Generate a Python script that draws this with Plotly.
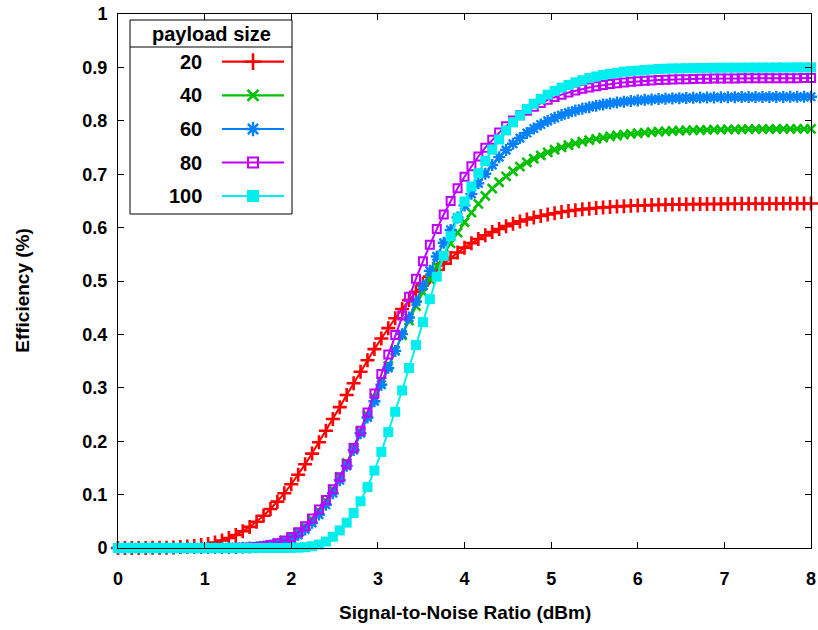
import plotly.graph_objects as go

# Signal-to-noise ratio samples (dBm)
snr = [
    0.00, 0.08, 0.16, 0.24, 0.32, 0.40, 0.48, 0.56, 0.64, 0.72,
    0.80, 0.88, 0.96, 1.04, 1.12, 1.20, 1.28, 1.36, 1.44, 1.52,
    1.60, 1.68, 1.76, 1.84, 1.92, 2.00, 2.08, 2.16, 2.24, 2.32,
    2.40, 2.48, 2.56, 2.64, 2.72, 2.80, 2.88, 2.96, 3.04, 3.12,
    3.20, 3.28, 3.36, 3.44, 3.52, 3.60, 3.68, 3.76, 3.84, 3.92,
    4.00, 4.08, 4.16, 4.24, 4.32, 4.40, 4.48, 4.56, 4.64, 4.72,
    4.80, 4.88, 4.96, 5.04, 5.12, 5.20, 5.28, 5.36, 5.44, 5.52,
    5.60, 5.68, 5.76, 5.84, 5.92, 6.00, 6.08, 6.16, 6.24, 6.32,
    6.40, 6.48, 6.56, 6.64, 6.72, 6.80, 6.88, 6.96, 7.04, 7.12,
    7.20, 7.28, 7.36, 7.44, 7.52, 7.60, 7.68, 7.76, 7.84, 7.92,
    8.00,
]

# Efficiency per payload size
eff_20 = [
    0, 0, 0, 0.0001, 0.0002, 0.0003, 0.0004, 0.0007, 0.0011, 0.0017,
    0.0026, 0.0038, 0.0054, 0.0076, 0.0104, 0.0141, 0.0187, 0.0244, 0.0313, 0.0395,
    0.0492, 0.0603, 0.0730, 0.0868, 0.1024, 0.1194, 0.1373, 0.1567, 0.1768, 0.1980,
    0.2195, 0.2416, 0.2638, 0.2864, 0.3084, 0.3300, 0.3515, 0.3725, 0.3924, 0.4117,
    0.4302, 0.4477, 0.4642, 0.4798, 0.4945, 0.5081, 0.5207, 0.5325, 0.5433, 0.5534,
    0.5625, 0.5709, 0.5786, 0.5855, 0.5919, 0.5975, 0.6027, 0.6074, 0.6116, 0.6153,
    0.6187, 0.6218, 0.6245, 0.6269, 0.6291, 0.6310, 0.6327, 0.6342, 0.6355, 0.6367,
    0.6378, 0.6386, 0.6395, 0.6402, 0.6408, 0.6413, 0.6418, 0.6422, 0.6426, 0.6429,
    0.6432, 0.6435, 0.6437, 0.6439, 0.6440, 0.6442, 0.6443, 0.6444, 0.6445, 0.6446,
    0.6446, 0.6447, 0.6447, 0.6448, 0.6448, 0.6448, 0.6449, 0.6449, 0.6449, 0.6449,
    0.6450,
]
eff_40 = [
    0, 0, 0, 0, 0, 0, 0, 0, 0, 0,
    0, 0, 0, 0, 0, 0.0001, 0.0002, 0.0003, 0.0006, 0.0012,
    0.0021, 0.0037, 0.0060, 0.0093, 0.0141, 0.0205, 0.0289, 0.0397, 0.0529, 0.0691,
    0.0877, 0.1090, 0.1331, 0.1594, 0.1879, 0.2176, 0.2488, 0.2811, 0.3116, 0.3409,
    0.3695, 0.3981, 0.4259, 0.4529, 0.4789, 0.5038, 0.5274, 0.5497, 0.5706, 0.5905,
    0.6100, 0.6280, 0.6445, 0.6595, 0.6730, 0.6850, 0.6960, 0.7055, 0.7142, 0.7220,
    0.7290, 0.7352, 0.7408, 0.7458, 0.7503, 0.7542, 0.7578, 0.7610, 0.7638, 0.7663,
    0.7686, 0.7707, 0.7725, 0.7741, 0.7755, 0.7767, 0.7778, 0.7788, 0.7796, 0.7803,
    0.7810, 0.7815, 0.7820, 0.7824, 0.7828, 0.7831, 0.7834, 0.7836, 0.7838, 0.7840,
    0.7842, 0.7843, 0.7844, 0.7845, 0.7846, 0.7847, 0.7848, 0.7848, 0.7849, 0.7849,
    0.7850,
]
eff_60 = [
    0, 0, 0, 0, 0, 0, 0, 0, 0, 0,
    0, 0, 0, 0, 0, 0, 0.0001, 0.0002, 0.0004, 0.0008,
    0.0015, 0.0027, 0.0045, 0.0073, 0.0114, 0.0170, 0.0246, 0.0347, 0.0472, 0.0626,
    0.0810, 0.1026, 0.1269, 0.1538, 0.1835, 0.2151, 0.2444, 0.2749, 0.3059, 0.3374,
    0.3691, 0.4005, 0.4315, 0.4616, 0.4909, 0.5190, 0.5460, 0.5715, 0.5956, 0.6190,
    0.6416, 0.6632, 0.6829, 0.7009, 0.7172, 0.7319, 0.7452, 0.7570, 0.7677, 0.7772,
    0.7856, 0.7931, 0.7997, 0.8055, 0.8107, 0.8152, 0.8192, 0.8226, 0.8256, 0.8284,
    0.8306, 0.8326, 0.8343, 0.8358, 0.8371, 0.8382, 0.8392, 0.8401, 0.8408, 0.8414,
    0.8419, 0.8424, 0.8428, 0.8431, 0.8434, 0.8436, 0.8438, 0.8440, 0.8441, 0.8443,
    0.8444, 0.8445, 0.8446, 0.8446, 0.8447, 0.8448, 0.8448, 0.8449, 0.8449, 0.8449,
    0.8450,
]
eff_80 = [
    0, 0, 0, 0, 0, 0, 0, 0, 0, 0,
    0, 0, 0, 0, 0, 0.0001, 0.0001, 0.0003, 0.0006, 0.0011,
    0.0020, 0.0035, 0.0058, 0.0091, 0.0140, 0.0207, 0.0295, 0.0409, 0.0551, 0.0722,
    0.0900, 0.1102, 0.1325, 0.1568, 0.1871, 0.2196, 0.2538, 0.2894, 0.3258, 0.3624,
    0.3990, 0.4352, 0.4704, 0.5044, 0.5369, 0.5679, 0.5972, 0.6245, 0.6500, 0.6735,
    0.6952, 0.7150, 0.7332, 0.7496, 0.7645, 0.7779, 0.7899, 0.8006, 0.8103, 0.8189,
    0.8265, 0.8332, 0.8392, 0.8444, 0.8490, 0.8531, 0.8566, 0.8598, 0.8625, 0.8649,
    0.8670, 0.8688, 0.8704, 0.8717, 0.8729, 0.8739, 0.8748, 0.8756, 0.8762, 0.8768,
    0.8772, 0.8776, 0.8780, 0.8783, 0.8786, 0.8788, 0.8790, 0.8791, 0.8793, 0.8794,
    0.8795, 0.8796, 0.8797, 0.8797, 0.8798, 0.8798, 0.8799, 0.8799, 0.8799, 0.8800,
    0.8800,
]
eff_100 = [
    0, 0, 0, 0, 0, 0, 0, 0, 0, 0,
    0, 0, 0, 0, 0, 0, 0, 0, 0, 0,
    0, 0, 0, 0, 0, 0.0002, 0.0006, 0.0015, 0.0033, 0.0065,
    0.0120, 0.0210, 0.0330, 0.0475, 0.0655, 0.0875, 0.1140, 0.1450, 0.1800, 0.2170,
    0.2550, 0.2950, 0.3370, 0.3800, 0.4230, 0.4660, 0.5080, 0.5470, 0.5840, 0.6180,
    0.6490, 0.6770, 0.7020, 0.7250, 0.7460, 0.7650, 0.7820, 0.7970, 0.8100, 0.8220,
    0.8320, 0.8410, 0.8490, 0.8560, 0.8620, 0.8670, 0.8720, 0.8760, 0.8800, 0.8830,
    0.8860, 0.8880, 0.8900, 0.8920, 0.8930, 0.8940, 0.8950, 0.8960, 0.8970, 0.8975,
    0.8980, 0.8982, 0.8985, 0.8987, 0.8989, 0.8990, 0.8992, 0.8993, 0.8994, 0.8995,
    0.8995, 0.8996, 0.8996, 0.8997, 0.8997, 0.8998, 0.8998, 0.8999, 0.8999, 0.9000,
    0.9000,
]

payload_sizes = ["20", "40", "60", "80", "100"]
series = [eff_20, eff_40, eff_60, eff_80, eff_100]
colors = ["#ff0000", "#00c000", "#0080ff", "#c000ff", "#00eeee"]
symbols = ["cross-thin-open", "x-thin-open", "asterisk-open", "square-open", "square"]
sizes = [10, 9, 10, 8, 10]
stroke = [2.6, 2.6, 2.4, 2.0, 0]

FONT = "Liberation Sans, Arial, sans-serif"

fig = go.Figure()

for name, ys, col, sym, sz, sw in zip(payload_sizes, series, colors, symbols, sizes, stroke):
    fig.add_trace(go.Scatter(
        x=snr, y=ys, mode="lines+markers", name=name,
        line=dict(color=col, width=2),
        marker=dict(symbol=sym, size=sz, color=col, line=dict(color=col, width=sw)),
        cliponaxis=False, showlegend=False, hoverinfo="skip",
    ))

# Hand-built key on a pixel-unit overlay axis spanning the plot frame
LEFT, RIGHT, TOP, BOTTOM = 118, 811, 14, 548
key_rows = [61.7, 95.3, 129.0, 162.5, 196.0]
for name, col, sym, sz, sw, ky in zip(payload_sizes, colors, symbols, sizes, stroke, key_rows):
    fig.add_shape(type="line", xref="x2", yref="y2", x0=222, x1=284, y0=ky, y1=ky,
                  line=dict(color=col, width=2.2))
    fig.add_trace(go.Scatter(
        x=[253], y=[ky], xaxis="x2", yaxis="y2", mode="markers",
        marker=dict(symbol=sym, size=sz + 2, color=col, line=dict(color=col, width=sw)),
        showlegend=False, hoverinfo="skip", cliponaxis=False,
    ))
    fig.add_annotation(x=204, y=ky, xref="x2", yref="y2", text=f"<b>{name}</b>",
                       showarrow=False, xanchor="right", yanchor="middle",
                       font=dict(family=FONT, size=20, color="black"))

fig.add_shape(type="rect", xref="x2", yref="y2", x0=130, x1=292, y0=20, y1=214,
              line=dict(color="black", width=1), fillcolor="rgba(0,0,0,0)")
fig.add_shape(type="line", xref="x2", yref="y2", x0=130, x1=292, y0=47, y1=47,
              line=dict(color="black", width=1))
fig.add_annotation(x=211, y=33.5, xref="x2", yref="y2", text="<b>payload size</b>",
                   showarrow=False, xanchor="center", yanchor="middle",
                   font=dict(family=FONT, size=20, color="black"))

# Axis titles
fig.add_annotation(x=0.5, y=-0.12, xref="paper", yref="paper",
                   text="<b>Signal-to-Noise Ratio (dBm)</b>", showarrow=False,
                   xanchor="center", yanchor="middle",
                   font=dict(family=FONT, size=19, color="black"))
fig.add_annotation(x=-0.139, y=0.483, xref="paper", yref="paper",
                   text="<b>Efficiency (%)</b>", showarrow=False, textangle=-90,
                   xanchor="center", yanchor="middle",
                   font=dict(family=FONT, size=19, color="black"))

axis_common = dict(
    showgrid=False, zeroline=False, showline=True, linecolor="black", linewidth=1,
    mirror="ticks", ticks="inside", ticklen=6, tickwidth=1, tickcolor="black",
    tickfont=dict(family=FONT, size=18, color="black", weight="bold"),
    automargin=False,
)

fig.update_layout(
    width=818, height=630,
    margin=dict(l=LEFT, r=818 - RIGHT, t=TOP, b=630 - BOTTOM, autoexpand=False),
    paper_bgcolor="white", plot_bgcolor="white",
    xaxis=dict(range=[0, 8], tickvals=[0, 1, 2, 3, 4, 5, 6, 7, 8],
               ticklabelstandoff=14, **axis_common),
    yaxis=dict(range=[0, 1], tickvals=[0, 0.1, 0.2, 0.3, 0.4, 0.5, 0.6, 0.7, 0.8, 0.9, 1],
               ticklabelstandoff=6, **axis_common),
    xaxis2=dict(overlaying="x", range=[LEFT, RIGHT], visible=False, fixedrange=True),
    yaxis2=dict(overlaying="y", range=[BOTTOM, TOP], visible=False, fixedrange=True),
    showlegend=False,
)

fig.write_html("out.html")
